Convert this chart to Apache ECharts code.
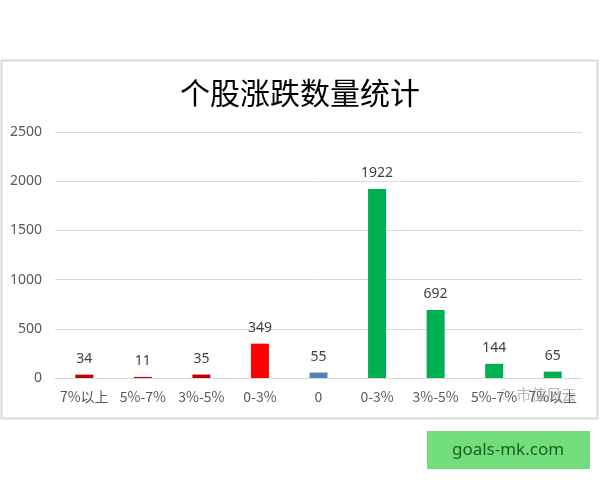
<!DOCTYPE html>
<html><head><meta charset="utf-8">
<script src="https://cdn.jsdelivr.net/npm/echarts@6/dist/echarts.min.js"></script>
<style>html,body{margin:0;padding:0;background:#fff;}#c{width:600px;height:480px;}</style>
</head><body><div id="c"></div>
<script>
const categories = ['7%以上','5%-7%','3%-5%','0-3%','0','0-3%','3%-5%','5%-7%','7%以上'];
const values = [34, 11, 35, 349, 55, 1922, 692, 144, 65];
const barColors = ['#C00000','#C00000','#C00000','#FF0000','#4F81BD','#00B050','#00B050','#00B050','#00B050'];
const yTicks = [0, 500, 1000, 1500, 2000, 2500];

const chart = echarts.init(document.getElementById('c'));
chart.setOption({
  backgroundColor: '#fff',
  animation: false,
  title: {
    text: '个股涨跌数量统计', left: 'center', top: 73,
    textStyle: { fontFamily: 'Noto Sans CJK SC', fontSize: 30, fontWeight: 'normal', color: '#000' }
  },
  grid: { left: 55, right: 18, top: 132, bottom: 102 },
  xAxis: {
    type: 'category', data: categories,
    axisLine: { lineStyle: { color: '#d9d9d9' } },
    axisTick: { show: false },
    axisLabel: { color: '#595959', fontSize: 14, margin: 12, fontFamily: 'Noto Sans CJK SC', interval: 0 }
  },
  yAxis: {
    type: 'value', min: yTicks[0], max: yTicks[yTicks.length-1], interval: 500,
    axisLine: { show: false }, axisTick: { show: false },
    splitLine: { lineStyle: { color: '#d9d9d9' } },
    axisLabel: { color: '#595959', fontSize: 14, margin: 13, fontFamily: 'Noto Sans', formatter: v => String(v) }
  },
  series: [{
    type: 'bar',
    data: values.map((v, i) => ({ value: v, itemStyle: { color: barColors[i] } })),
    barWidth: 18,
    label: { show: true, position: 'top', distance: 9, color: '#404040', fontSize: 14, fontFamily: 'Noto Sans' }
  }],
  graphic: [
    { type: 'rect', shape: { x: 1.5, y: 60.5, width: 596, height: 358 }, style: { fill: 'none', stroke: '#d9d9d9', lineWidth: 2 }, z: -1 },
    { type: 'text', left: 498, top: 387, style: { text: '☁ 市值风云', fill: 'rgba(120,120,120,0.55)', font: '15px "Noto Sans CJK SC"' }, z: 10 },
    { type: 'rect', shape: { x: 427, y: 431, width: 163, height: 38 }, style: { fill: '#72DE7B' } },
    { type: 'text', x: 508, y: 450, style: { text: 'goals-mk.com', fill: '#1E5E22', font: '17px "Noto Sans"', textAlign: 'center', textVerticalAlign: 'middle' } }
  ]
});
</script></body></html>
